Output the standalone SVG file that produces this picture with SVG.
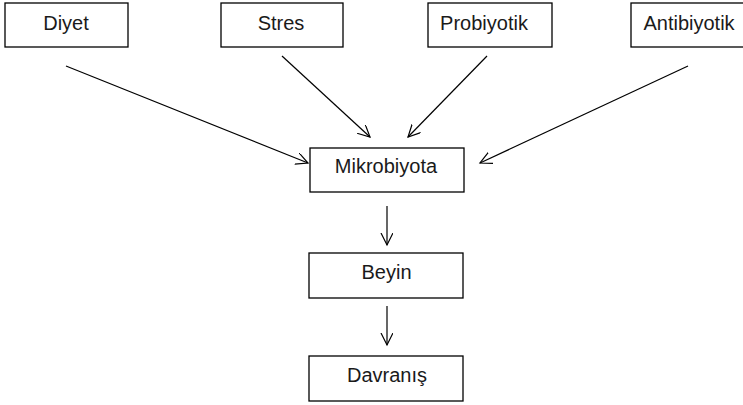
<svg xmlns="http://www.w3.org/2000/svg" width="743" height="405" viewBox="0 0 743 405">
<defs>
<marker id="ah" markerWidth="14" markerHeight="14" refX="12" refY="6" orient="auto" markerUnits="userSpaceOnUse">
<path d="M0,0 L12,6 L0,12" fill="none" stroke="#000" stroke-width="1.2"/>
</marker>
<style>
.box{fill:#fff;stroke:#000;stroke-width:1.3}
.t{font-family:"Liberation Sans",Arial,sans-serif;font-size:20px;fill:#1a1a1a;text-anchor:middle}
.c{stroke:#000;stroke-width:1.2;fill:none;marker-end:url(#ah)}
</style>
</defs>
<rect width="743" height="405" fill="#fff"/>
<g id="diyet"><rect class="box" x="5" y="3" width="123" height="44"/><text class="t" x="66" y="30">Diyet</text></g>
<g id="stres"><rect class="box" x="221" y="3" width="122" height="44"/><text class="t" x="281" y="30">Stres</text></g>
<g id="probiyotik"><rect class="box" x="428" y="3" width="124" height="44"/><text class="t" x="484" y="30">Probiyotik</text></g>
<g id="antibiyotik"><rect class="box" x="631" y="3" width="120" height="44"/><text class="t" x="689" y="30">Antibiyotik</text></g>
<g id="mikrobiyota"><rect class="box" x="310" y="148" width="154" height="44"/><text class="t" x="386" y="173">Mikrobiyota</text></g>
<g id="beyin"><rect class="box" x="309" y="253" width="154" height="45"/><text class="t" x="386.5" y="279">Beyin</text></g>
<g id="davranis"><rect class="box" x="309" y="356" width="154" height="45"/><text class="t" x="387" y="382">Davranış</text></g>
<g id="connectors">
<line class="c" x1="66" y1="66" x2="308" y2="163"/>
<line class="c" x1="282" y1="56" x2="370" y2="137"/>
<line class="c" x1="487" y1="56" x2="408" y2="137"/>
<line class="c" x1="688" y1="66" x2="480" y2="163"/>
<line class="c" x1="387" y1="206" x2="387" y2="245"/>
<line class="c" x1="387" y1="306" x2="387" y2="345"/>
</g>
</svg>
